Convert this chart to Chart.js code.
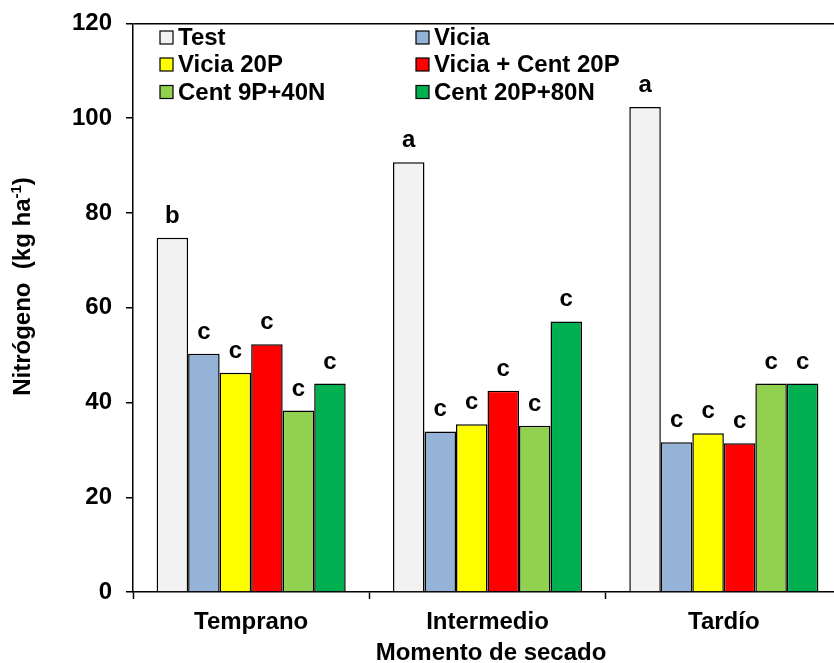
<!DOCTYPE html>
<html><head><meta charset="utf-8">
<script src="https://cdn.jsdelivr.net/npm/chart.js@4/dist/chart.umd.min.js"></script>
<style>
html,body{margin:0;padding:0;background:#fff;overflow:hidden;width:834px;height:663px}
#wrap{width:834px;height:663px;overflow:hidden;position:relative}
canvas{display:block}
</style></head>
<body><div id="wrap"><canvas id="c" width="846" height="663"></canvas></div>
<script>
const categories = ['Temprano', 'Intermedio', 'Tardío'];
const seriesNames = ['Test', 'Vicia', 'Vicia 20P', 'Vicia + Cent 20P', 'Cent 9P+40N', 'Cent 20P+80N'];
const test = [74.8, 90.7, 102.4];
const vicia = [50.3, 33.9, 31.6];
const vicia20P = [46.3, 35.4, 33.5];
const viciaCent20P = [52.3, 42.5, 31.4];
const cent9P40N = [38.3, 35.1, 44.0];
const cent20P80N = [44.0, 57.1, 44.0];
const lettersTest = ['b', 'a', 'a'];
const lettersVicia = ['c', 'c', 'c'];
const lettersVicia20P = ['c', 'c', 'c'];
const lettersViciaCent20P = ['c', 'c', 'c'];
const lettersCent9P40N = ['c', 'c', 'c'];
const lettersCent20P80N = ['c', 'c', 'c'];
const yTicks = [0, 20, 40, 60, 80, 100, 120];
const colors = ['#F2F2F2', '#95B3D7', '#FFFF00', '#FF0000', '#92D050', '#00B050'];
const xTitle = 'Momento de secado';
const yTitleMain = 'Nitrógeno  (kg ha';
const yTitleSup = '-1';
const yTitleEnd = ')';

const FONT = '"Liberation Sans", Arial, sans-serif';
const seriesValues = [test, vicia, vicia20P, viciaCent20P, cent9P40N, cent20P80N];
const seriesLetters = [lettersTest, lettersVicia, lettersVicia20P, lettersViciaCent20P, lettersCent9P40N, lettersCent20P80N];

const extrasPlugin = {
  id: 'extras',
  afterDatasetsDraw(chart) {
    const ctx = chart.ctx;
    ctx.save();
    ctx.fillStyle = '#000';
    ctx.font = 'bold 24px ' + FONT;
    ctx.textAlign = 'center';
    ctx.textBaseline = 'alphabetic';
    chart.data.datasets.forEach((ds, i) => {
      const meta = chart.getDatasetMeta(i);
      meta.data.forEach((el, j) => {
        ctx.fillText(seriesLetters[i][j], el.x, el.y - 15);
      });
    });
    ctx.restore();
  },
  afterDraw(chart) {
    const ctx = chart.ctx;
    ctx.save();
    // legend (two columns, three rows)
    const colX = [160, 416];
    const rowBase = [45, 72, 99.5];
    ctx.font = 'bold 24px ' + FONT;
    ctx.textAlign = 'left';
    ctx.textBaseline = 'alphabetic';
    chart.data.datasets.forEach((ds, i) => {
      const cx = colX[i % 2];
      const by = rowBase[Math.floor(i / 2)];
      ctx.fillStyle = ds.backgroundColor;
      ctx.fillRect(cx, by - 14, 13, 13);
      ctx.strokeStyle = '#000';
      ctx.lineWidth = 1.2;
      ctx.strokeRect(cx, by - 14, 13, 13);
      ctx.fillStyle = '#000';
      ctx.fillText(ds.label, cx + 18, by);
    });
    // x title
    ctx.textAlign = 'center';
    ctx.fillText(xTitle, 491, 660);
    // y title
    ctx.translate(30, 286.5);
    ctx.rotate(-Math.PI / 2);
    ctx.font = 'bold 24px ' + FONT;
    const w1 = ctx.measureText(yTitleMain).width;
    const w3 = ctx.measureText(yTitleEnd).width;
    ctx.font = 'bold 15px ' + FONT;
    const w2 = ctx.measureText(yTitleSup).width;
    const total = w1 + w2 + w3;
    let x = -total / 2;
    ctx.textAlign = 'left';
    ctx.font = 'bold 24px ' + FONT;
    ctx.fillText(yTitleMain, x, 0);
    x += w1;
    ctx.font = 'bold 15px ' + FONT;
    ctx.fillText(yTitleSup, x, -9);
    x += w2;
    ctx.font = 'bold 24px ' + FONT;
    ctx.fillText(yTitleEnd, x, 0);
    ctx.restore();
  }
};

new Chart(document.getElementById('c'), {
  type: 'bar',
  data: {
    labels: categories,
    datasets: seriesNames.map((name, i) => ({
      label: name,
      data: seriesValues[i],
      backgroundColor: colors[i],
      borderColor: '#000',
      borderWidth: 1.5,
      categoryPercentage: 0.8,
      barPercentage: 1.0
    }))
  },
  options: {
    responsive: false,
    animation: false,
    layout: { padding: { top: 23.5, right: 4, bottom: 0, left: 0 } },
    plugins: { legend: { display: false }, tooltip: { enabled: false } },
    scales: {
      x: {
        grid: { drawOnChartArea: false, drawTicks: true, tickLength: 7, tickColor: '#000', tickWidth: 1.5, offset: true },
        border: { display: true, color: '#000', width: 1.5 },
        ticks: { color: '#000', font: { size: 24, weight: 'bold', family: FONT }, padding: 9, maxRotation: 0 },
        afterFit(s) { s.height = 71; s.paddingLeft = 0; s.paddingRight = 0; }
      },
      y: {
        min: 0, max: 120,
        afterBuildTicks(s) { s.ticks = yTicks.map(v => ({ value: v })); },
        ticks: { color: '#000', font: { size: 24, weight: 'bold', family: FONT }, padding: 14 },
        grid: {
          color: (c) => (c.tick && c.tick.value === 120) ? '#000' : 'rgba(0,0,0,0)',
          tickColor: '#000', tickLength: 7, lineWidth: 1.5, tickWidth: 1.5
        },
        border: { display: true, color: '#000', width: 1.5 },
        afterFit(s) { s.width = 133; s.paddingTop = 0; s.paddingBottom = 0; }
      }
    }
  },
  plugins: [extrasPlugin]
});
</script>
</body></html>
